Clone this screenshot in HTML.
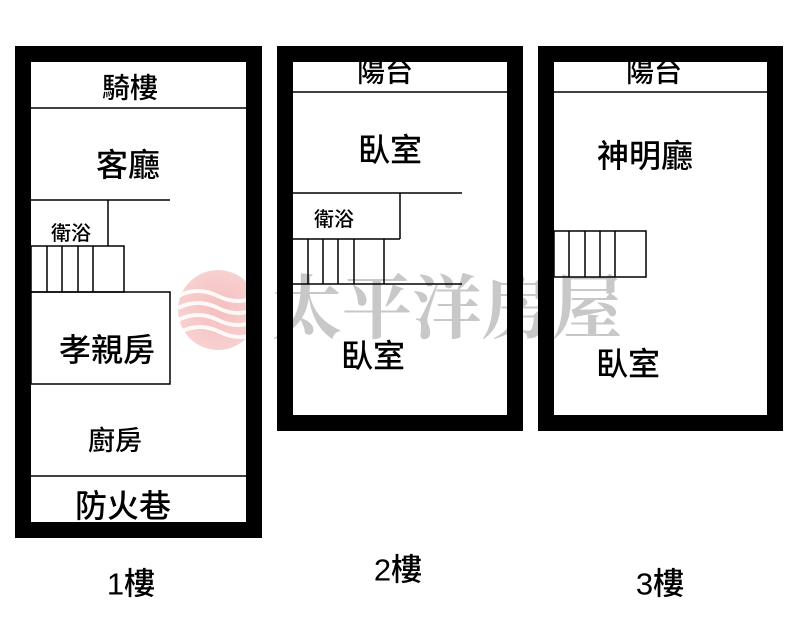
<!DOCTYPE html>
<html><head><meta charset="utf-8"><style>
html,body{margin:0;padding:0;background:#fff}
svg{display:block}
text{font-family:"Liberation Sans","Noto Sans CJK TC",sans-serif;fill:#000;text-anchor:middle;dominant-baseline:central;font-weight:500}
</style></head><body>
<svg width="800" height="623" viewBox="0 0 800 623" xmlns="http://www.w3.org/2000/svg">
<defs><radialGradient id="g" cx="0.5" cy="0.5" r="0.5"><stop offset="0" stop-color="#f3b3b3"/><stop offset="1" stop-color="#f6c8c8"/></radialGradient></defs>
<circle cx="218" cy="310" r="40" fill="url(#g)" opacity="0.85"/>
<g stroke="#fff" stroke-width="4" fill="none" opacity="0.9">
<path d="M178 296 q20 -10 40 0 t40 0"/><path d="M178 308 q20 -10 40 0 t40 0"/><path d="M178 320 q20 -10 40 0 t40 0"/><path d="M180 332 q20 -10 40 0 t40 0"/>
</g>
<text x="447" y="310" style="font-family:'Liberation Serif','Noto Serif CJK SC',serif;font-size:70px;fill:#c8c8c8;font-weight:bold">太平洋房屋</text>

<g fill="none" stroke="#000">
<rect x="23" y="54" width="231" height="476" stroke-width="16"/>
<g stroke-width="1.5">
<line x1="31" y1="108" x2="246" y2="108"/>
<line x1="31" y1="200" x2="170" y2="200"/>
<line x1="108" y1="200" x2="108" y2="246"/>
<rect x="31" y="246" width="93" height="46"/>
<line x1="47" y1="246" x2="47" y2="292"/><line x1="62" y1="246" x2="62" y2="292"/>
<line x1="78" y1="246" x2="78" y2="292"/><line x1="93" y1="246" x2="93" y2="292"/>
<rect x="31" y="292" width="139" height="92"/>
<line x1="31" y1="476" x2="246" y2="476"/>
</g>
<rect x="285" y="54" width="230" height="369" stroke-width="16"/>
<g stroke-width="1.5">
<line x1="293" y1="92" x2="507" y2="92"/>
<line x1="293" y1="193" x2="462" y2="193"/>
<line x1="400" y1="193" x2="400" y2="239"/>
<line x1="293" y1="239" x2="400" y2="239"/>
<line x1="308" y1="239" x2="308" y2="284"/><line x1="323" y1="239" x2="323" y2="284"/>
<line x1="338" y1="239" x2="338" y2="284"/><line x1="354" y1="239" x2="354" y2="284"/>
<line x1="384" y1="239" x2="384" y2="284"/>
<line x1="293" y1="284" x2="462" y2="284"/>
</g>
<rect x="546" y="54" width="229" height="369" stroke-width="16"/>
<g stroke-width="1.5">
<line x1="554" y1="92" x2="768" y2="92"/>
<rect x="554" y="231" width="92" height="46"/>
<line x1="569" y1="231" x2="569" y2="277"/><line x1="585" y1="231" x2="585" y2="277"/>
<line x1="600" y1="231" x2="600" y2="277"/><line x1="615" y1="231" x2="615" y2="277"/>
</g>
</g>

<text x="130" y="88" font-size="28">騎樓</text>
<text x="128" y="165" font-size="32">客廳</text>
<text x="71" y="234" font-size="20">衛浴</text>
<text x="107" y="350" font-size="32">孝親房</text>
<text x="115" y="441" font-size="27">廚房</text>
<text x="123" y="506" font-size="32">防火巷</text>

<text x="385" y="72" font-size="28">陽台</text>
<text x="390" y="150" font-size="32">臥室</text>
<text x="334" y="220" font-size="20">衛浴</text>
<text x="373" y="356" font-size="32">臥室</text>

<text x="654" y="72" font-size="28">陽台</text>
<text x="645" y="156" font-size="32">神明廳</text>
<text x="628" y="364" font-size="32">臥室</text>

<text x="131" y="584" font-size="31">1樓</text>
<text x="398" y="570" font-size="31">2樓</text>
<text x="660" y="584" font-size="31">3樓</text>
</svg>
</body></html>
